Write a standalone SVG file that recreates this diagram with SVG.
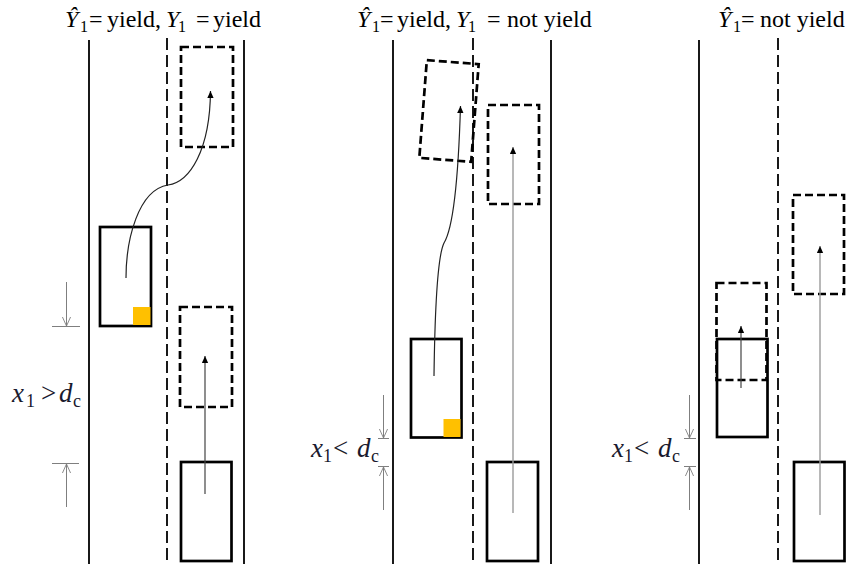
<svg xmlns="http://www.w3.org/2000/svg" width="851" height="564" viewBox="0 0 851 564">
<style>
.road{stroke:#000;stroke-width:1.8;fill:none}
.center{stroke:#000;stroke-width:1.8;stroke-dasharray:12,5;fill:none}
.car{stroke:#000;stroke-width:2.7;fill:none}
.ghost{stroke:#000;stroke-width:2.7;stroke-dasharray:8,4;fill:none}
.flag{fill:#FFC000}
.path{stroke:#222;stroke-width:1.2;fill:none;marker-end:url(#ah)}
.straight{stroke:#444;stroke-width:1.2;fill:none;marker-end:url(#ah)}
.light{stroke:#9a9a9a;stroke-width:1.4;fill:none;marker-end:url(#ah)}
.dim{stroke:#7f7f7f;stroke-width:1;fill:none}
.dimarrow{stroke:#7f7f7f;stroke-width:1;fill:none;marker-end:url(#oa)}
text{font-family:'Liberation Serif','Times New Roman',serif;font-size:24px;fill:#000}
.it{font-style:italic}
.sub{font-size:16px}
.lab{fill:#1a1a2e;font-size:27px}
.lab .sub{font-size:18px}
</style>
<defs>
<marker id="ah" viewBox="0 0 10 10" refX="10" refY="5" markerWidth="8" markerHeight="7" markerUnits="userSpaceOnUse" orient="auto"><path d="M0,0.5 L10,5 L0,9.5 z" fill="#000"/></marker>
<marker id="oa" viewBox="0 0 10 10" refX="10" refY="5" markerWidth="9" markerHeight="10" markerUnits="userSpaceOnUse" orient="auto"><path d="M0,0.5 L10,5 L0,9.5" fill="none" stroke="#7f7f7f" stroke-width="1"/></marker>
</defs>

<!-- titles -->
<g id="title-left">
<text y="27" font-family="Liberation Serif, serif"><tspan x="65" class="it">Ŷ</tspan><tspan x="80" dy="5" class="sub">1</tspan><tspan x="89" dy="-5">=</tspan><tspan x="107">yield,</tspan><tspan x="166" class="it">Y</tspan><tspan x="178" dy="5" class="sub">1</tspan><tspan x="196" dy="-5">=</tspan><tspan x="213">yield</tspan></text>
</g>
<g id="title-middle">
<text y="27" font-family="Liberation Serif, serif"><tspan x="357" class="it">Ŷ</tspan><tspan x="372" dy="5" class="sub">1</tspan><tspan x="380" dy="-5">=</tspan><tspan x="397">yield,</tspan><tspan x="456" class="it">Y</tspan><tspan x="468" dy="5" class="sub">1</tspan><tspan x="487" dy="-5">=</tspan><tspan x="507">not yield</tspan></text>
</g>
<g id="title-right">
<text y="27" font-family="Liberation Serif, serif"><tspan x="718" class="it">Ŷ</tspan><tspan x="733" dy="5" class="sub">1</tspan><tspan x="741" dy="-5">=</tspan><tspan x="760">not yield</tspan></text>
</g>

<!-- roads -->
<g id="roads">
<line class="road" x1="89" y1="40" x2="89" y2="564"/>
<line class="center" x1="167" y1="38" x2="167" y2="564"/>
<line class="road" x1="244" y1="40" x2="244" y2="564"/>
<line class="road" x1="393" y1="40" x2="393" y2="564"/>
<line class="center" x1="473" y1="38" x2="473" y2="564"/>
<line class="road" x1="551" y1="40" x2="551" y2="564"/>
<line class="road" x1="699" y1="40" x2="699" y2="564"/>
<line class="center" x1="778" y1="38" x2="778" y2="564"/>
</g>

<!-- left panel nodes -->
<g id="left-ego"><rect class="car" x="100" y="227" width="51" height="99"/><rect class="flag" x="133" y="307" width="17.5" height="18"/></g>
<g id="left-ego-target"><rect class="ghost" x="181" y="47" width="52" height="100"/></g>
<g id="left-other-target"><rect class="ghost" x="180" y="307" width="52" height="100"/></g>
<g id="left-other"><rect class="car" x="181" y="462" width="50.5" height="99"/></g>

<!-- middle panel nodes -->
<g id="mid-ego"><rect class="car" x="411" y="339" width="50.5" height="98.5"/><rect class="flag" x="443.5" y="419" width="17" height="18"/></g>
<g id="mid-ego-target"><rect class="ghost" x="-26" y="-49" width="52" height="98" transform="translate(449,111) rotate(4.4)"/></g>
<g id="mid-other-target"><rect class="ghost" x="488" y="105" width="51" height="99"/></g>
<g id="mid-other"><rect class="car" x="487" y="462" width="51" height="99"/></g>

<!-- right panel nodes -->
<g id="right-ego"><rect class="car" x="717" y="339" width="50.5" height="98"/></g>
<g id="right-ego-target"><rect class="ghost" x="716.5" y="283" width="50" height="97"/></g>
<g id="right-other-target"><rect class="ghost" x="793" y="195" width="51" height="99"/></g>
<g id="right-other"><rect class="car" x="794" y="462" width="50.5" height="99"/></g>

<!-- connectors -->
<g id="connectors">
<path class="path" d="M126,278 C126,240 138,190 168,185 C190,182 210,150 210.5,91"/>
<line class="straight" x1="205" y1="494" x2="205" y2="356"/>
<path class="path" d="M434,376 C435,300 438,255 444,243 C452,230 458,190 460.5,106"/>
<line class="light" x1="513" y1="513" x2="513" y2="147"/>
<line class="straight" x1="741" y1="388" x2="741" y2="326"/>
<line class="light" x1="820" y1="515" x2="820" y2="246"/>
</g>

<!-- dimensions -->
<g id="dim-left">
<line class="dim" x1="52" y1="326.5" x2="80" y2="326.5"/>
<line class="dimarrow" x1="66.5" y1="282" x2="66.5" y2="326"/>
<line class="dim" x1="52" y1="463.5" x2="79" y2="463.5"/>
<line class="dimarrow" x1="66.5" y1="507" x2="66.5" y2="464"/>
<text y="402" class="lab" font-family="Liberation Serif, serif"><tspan x="12" class="it">x</tspan><tspan x="26" dy="5" class="sub">1</tspan><tspan x="41" dy="-5">&gt;</tspan><tspan x="59" class="it">d</tspan><tspan x="73" dy="5" class="sub">c</tspan></text>
</g>
<g id="dim-middle">
<line class="dim" x1="378" y1="438.5" x2="389" y2="438.5"/>
<line class="dimarrow" x1="383.5" y1="395" x2="383.5" y2="438"/>
<line class="dim" x1="378" y1="466.5" x2="389" y2="466.5"/>
<line class="dimarrow" x1="383.5" y1="510" x2="383.5" y2="467"/>
<text y="457" class="lab" font-family="Liberation Serif, serif"><tspan x="311" class="it">x</tspan><tspan x="323" dy="5" class="sub">1</tspan><tspan x="333" dy="-5">&lt;</tspan><tspan x="357" class="it">d</tspan><tspan x="371" dy="5" class="sub">c</tspan></text>
</g>
<g id="dim-right">
<line class="dim" x1="684" y1="438.5" x2="696" y2="438.5"/>
<line class="dimarrow" x1="689.5" y1="395" x2="689.5" y2="438"/>
<line class="dim" x1="684" y1="466.5" x2="696" y2="466.5"/>
<line class="dimarrow" x1="689.5" y1="510" x2="689.5" y2="467"/>
<text y="457" class="lab" font-family="Liberation Serif, serif"><tspan x="612" class="it">x</tspan><tspan x="624" dy="5" class="sub">1</tspan><tspan x="634" dy="-5">&lt;</tspan><tspan x="658" class="it">d</tspan><tspan x="672" dy="5" class="sub">c</tspan></text>
</g>
</svg>
